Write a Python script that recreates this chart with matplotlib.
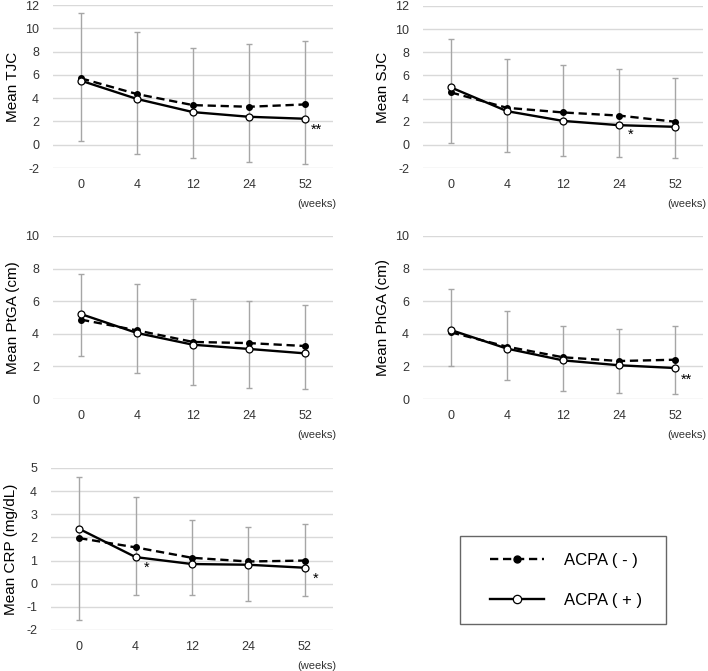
import numpy as np
import matplotlib
matplotlib.use("Agg")
import matplotlib.pyplot as plt
from matplotlib.lines import Line2D
from matplotlib.patches import Rectangle

plt.rcParams["font.family"] = ["Liberation Sans", "DejaVu Sans"]
plt.rcParams["axes.unicode_minus"] = False

weeks = ["0", "4", "12", "24", "52"]

# TJC
tjc_neg = [5.7, 4.35, 3.4, 3.26, 3.46]
tjc_pos = [5.5, 3.93, 2.8, 2.4, 2.23]
tjc_lo = [0.3, -0.77, -1.15, -1.52, -1.63]
tjc_hi = [11.3, 9.65, 8.3, 8.68, 8.9]

# SJC
sjc_neg = [4.53, 3.2, 2.8, 2.53, 2.0]
sjc_pos = [4.96, 2.91, 2.07, 1.7, 1.56]
sjc_lo = [0.2, -0.63, -0.95, -1.06, -1.12]
sjc_hi = [9.14, 7.38, 6.92, 6.54, 5.82]

# PtGA
ptga_neg = [4.87, 4.21, 3.5, 3.43, 3.25]
ptga_pos = [5.21, 4.05, 3.33, 3.07, 2.8]
ptga_lo = [2.66, 1.58, 0.88, 0.67, 0.6]
ptga_hi = [7.65, 7.07, 6.12, 6.01, 5.79]

# PhGA
phga_neg = [4.09, 3.21, 2.56, 2.33, 2.41]
phga_pos = [4.23, 3.09, 2.37, 2.07, 1.9]
phga_lo = [2.04, 1.15, 0.49, 0.35, 0.31]
phga_hi = [6.73, 5.38, 4.46, 4.29, 4.48]

# CRP
crp_neg = [1.97, 1.57, 1.12, 0.96, 1.0]
crp_pos = [2.37, 1.15, 0.85, 0.82, 0.69]
crp_lo = [-1.55, -0.47, -0.5, -0.73, -0.53]
crp_hi = [4.63, 3.73, 2.77, 2.46, 2.57]

panels = [
    ("Mean TJC", tjc_neg, tjc_pos, tjc_lo, tjc_hi, (-2, 12), 2, [(4, 1.3, "**")]),
    ("Mean SJC", sjc_neg, sjc_pos, sjc_lo, sjc_hi, (-2, 12), 2, [(3, 0.84, "*")]),
    ("Mean PtGA (cm)", ptga_neg, ptga_pos, ptga_lo, ptga_hi, (0, 10), 2, []),
    ("Mean PhGA (cm)", phga_neg, phga_pos, phga_lo, phga_hi, (0, 10), 2, [(4, 1.2, "**")]),
    ("Mean CRP (mg/dL)", crp_neg, crp_pos, crp_lo, crp_hi, (-2, 5), 1, [(1, 0.67, "*"), (4, 0.2, "*")]),
]

W, H = 708, 671
# axes boxes in pixels: left, top, right, bottom
boxes = [
    (53, 5, 333, 168),
    (423, 6, 703, 168),
    (53, 236, 333, 399),
    (423, 236, 703, 399),
    (51, 468, 333, 630),
]

fig = plt.figure(figsize=(W / 100, H / 100), dpi=100)

grid_c = "#d9d9d9"
err_c = "#a6a6a6"
x = np.arange(len(weeks))

for (label, neg, pos, lo, hi, ylim, step, stars), (l, t, r, b) in zip(panels, boxes):
    ax = fig.add_axes([l / W, 1 - b / H, (r - l) / W, (b - t) / H])
    lo = np.array(lo)
    hi = np.array(hi)
    mid = (lo + hi) / 2
    ax.errorbar(x, mid, yerr=[mid - lo, hi - mid], fmt="none", ecolor=err_c,
                elinewidth=1, capsize=2, capthick=1, zorder=2)
    ax.plot(x, neg, color="black", lw=1.7, ls=(0, (3.5, 2)), marker="o",
            ms=4, mfc="black", mec="black", zorder=3)
    ax.plot(x, pos, color="black", lw=1.7, ls="-", marker="o",
            ms=5, mfc="white", mec="black", mew=0.9, zorder=4)
    for xi, yi, s in stars:
        ax.text(xi + 0.2, yi, s, ha="center", va="center", fontsize=10.5)
    ax.set_xlim(-0.5, len(weeks) - 0.5)
    ax.set_ylim(*ylim)
    ax.set_yticks(np.arange(ylim[0], ylim[1] + 0.1, step))
    ax.set_xticks(x)
    ax.set_xticklabels(weeks)
    ax.yaxis.grid(True, color=grid_c, lw=1)
    ax.set_axisbelow(True)
    for sp in ax.spines.values():
        sp.set_visible(False)
    ax.tick_params(length=0, labelsize=9, colors="#333333")
    ax.tick_params(axis="x", pad=8)
    ax.tick_params(axis="y", pad=10)
    ax.set_ylabel(label, fontsize=11)
    ax.yaxis.set_label_coords(-0.118, 0.5)
    ax.text(1.012, -0.22, "(weeks)", transform=ax.transAxes, ha="right",
            va="center", fontsize=8, color="#333333")

# legend box
fig.patches.append(Rectangle((460 / W, 1 - 624 / H), 206 / W, 88 / H,
                             transform=fig.transFigure, fill=False,
                             edgecolor="#666666", lw=1))
handles = [
    Line2D([], [], color="black", lw=1.7, ls=(0, (3.5, 2)), marker="o", ms=5,
           mfc="black", mec="black"),
    Line2D([], [], color="black", lw=1.7, ls="-", marker="o", ms=6,
           mfc="white", mec="black", mew=0.9),
]
fig.legend(handles, ["ACPA ( - )", "ACPA ( + )"], loc="center",
           bbox_to_anchor=(566 / W, 1 - 580 / H), frameon=False, fontsize=12,
           handlelength=3.2, handletextpad=1.2, labelspacing=1.5)

fig.savefig("out.png", dpi=100)
